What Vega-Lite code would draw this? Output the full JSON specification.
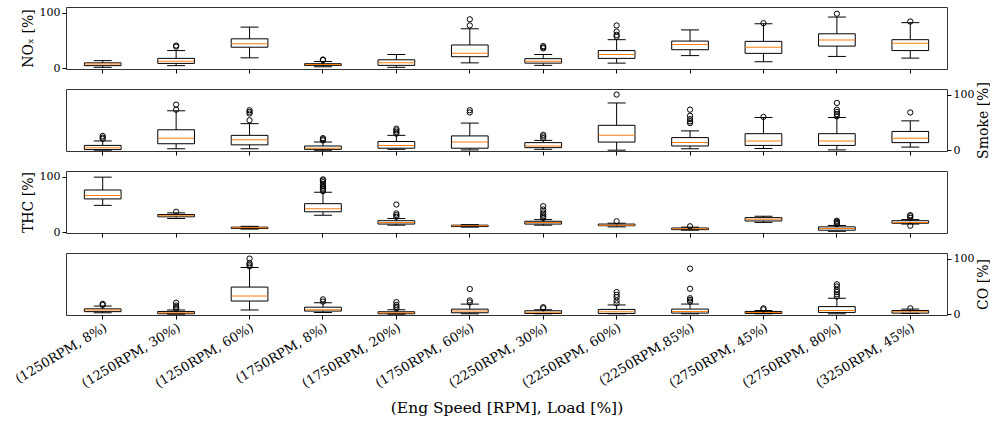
{
  "$schema": "https://vega.github.io/schema/vega-lite/v6.json",
  "padding": {"left": 12, "top": 6, "right": 2, "bottom": 5},
  "background": "white",
  "spacing": 20,
  "bounds": "flush",
  "datasets": {
    "boxes": [
      {"v": "NOx", "c": "(1250RPM, 8%)", "lo": 2, "q1": 5, "med": 8, "q3": 10, "hi": 14},
      {"v": "NOx", "c": "(1250RPM, 30%)", "lo": 5, "q1": 9, "med": 13, "q3": 18, "hi": 32},
      {"v": "NOx", "c": "(1250RPM, 60%)", "lo": 19, "q1": 38, "med": 44, "q3": 53, "hi": 74},
      {"v": "NOx", "c": "(1750RPM, 8%)", "lo": 3, "q1": 5.5, "med": 7, "q3": 8.5, "hi": 12.5},
      {"v": "NOx", "c": "(1750RPM, 20%)", "lo": 2, "q1": 5.5, "med": 10, "q3": 15.5, "hi": 25},
      {"v": "NOx", "c": "(1750RPM, 60%)", "lo": 10, "q1": 21, "med": 27, "q3": 42, "hi": 71},
      {"v": "NOx", "c": "(2250RPM, 30%)", "lo": 5.5, "q1": 9.5, "med": 13, "q3": 17.5, "hi": 25},
      {"v": "NOx", "c": "(2250RPM, 60%)", "lo": 9.5, "q1": 18, "med": 25, "q3": 32, "hi": 51.5},
      {"v": "NOx", "c": "(2250RPM,85%)", "lo": 23, "q1": 33.5, "med": 43, "q3": 49, "hi": 69},
      {"v": "NOx", "c": "(2750RPM, 45%)", "lo": 12, "q1": 27, "med": 38, "q3": 48.5, "hi": 80},
      {"v": "NOx", "c": "(2750RPM, 80%)", "lo": 21.5, "q1": 40, "med": 51, "q3": 62, "hi": 92},
      {"v": "NOx", "c": "(3250RPM, 45%)", "lo": 18.5, "q1": 32, "med": 45, "q3": 51.5, "hi": 82},

      {"v": "Smoke", "c": "(1250RPM, 8%)", "lo": 0.5, "q1": 1.5, "med": 5, "q3": 9, "hi": 17},
      {"v": "Smoke", "c": "(1250RPM, 30%)", "lo": 3, "q1": 12, "med": 22, "q3": 37, "hi": 71},
      {"v": "Smoke", "c": "(1250RPM, 60%)", "lo": 3, "q1": 10, "med": 19, "q3": 27, "hi": 48},
      {"v": "Smoke", "c": "(1750RPM, 8%)", "lo": 0.5, "q1": 2, "med": 4, "q3": 8, "hi": 15},
      {"v": "Smoke", "c": "(1750RPM, 20%)", "lo": 2, "q1": 4, "med": 9, "q3": 16, "hi": 27},
      {"v": "Smoke", "c": "(1750RPM, 60%)", "lo": 1, "q1": 4, "med": 15, "q3": 26, "hi": 49},
      {"v": "Smoke", "c": "(2250RPM, 30%)", "lo": 2, "q1": 5, "med": 8, "q3": 14, "hi": 18},
      {"v": "Smoke", "c": "(2250RPM, 60%)", "lo": 0.5, "q1": 15, "med": 27, "q3": 45, "hi": 85},
      {"v": "Smoke", "c": "(2250RPM,85%)", "lo": 3, "q1": 8, "med": 14, "q3": 23, "hi": 35},
      {"v": "Smoke", "c": "(2750RPM, 45%)", "lo": 3.5, "q1": 9, "med": 17, "q3": 30, "hi": 59},
      {"v": "Smoke", "c": "(2750RPM, 80%)", "lo": 1, "q1": 9, "med": 17, "q3": 30, "hi": 59},
      {"v": "Smoke", "c": "(3250RPM, 45%)", "lo": 6, "q1": 14, "med": 22, "q3": 34, "hi": 53},

      {"v": "THC", "c": "(1250RPM, 8%)", "lo": 48.5, "q1": 60, "med": 66, "q3": 76, "hi": 99},
      {"v": "THC", "c": "(1250RPM, 30%)", "lo": 25, "q1": 28, "med": 30, "q3": 32, "hi": 35},
      {"v": "THC", "c": "(1250RPM, 60%)", "lo": 6, "q1": 7, "med": 8.5, "q3": 9.5, "hi": 11},
      {"v": "THC", "c": "(1750RPM, 8%)", "lo": 31, "q1": 37, "med": 42.5, "q3": 51.5, "hi": 72},
      {"v": "THC", "c": "(1750RPM, 20%)", "lo": 13, "q1": 15, "med": 18, "q3": 21, "hi": 25},
      {"v": "THC", "c": "(1750RPM, 60%)", "lo": 9.5, "q1": 10.5, "med": 12, "q3": 13, "hi": 14},
      {"v": "THC", "c": "(2250RPM, 30%)", "lo": 13, "q1": 15, "med": 18, "q3": 20, "hi": 23},
      {"v": "THC", "c": "(2250RPM, 60%)", "lo": 10, "q1": 12, "med": 13, "q3": 15, "hi": 16.5},
      {"v": "THC", "c": "(2250RPM,85%)", "lo": 4, "q1": 5, "med": 6.5, "q3": 8, "hi": 9.5},
      {"v": "THC", "c": "(2750RPM, 45%)", "lo": 18, "q1": 20.5, "med": 23.5, "q3": 26.5, "hi": 29},
      {"v": "THC", "c": "(2750RPM, 80%)", "lo": 2, "q1": 4, "med": 7, "q3": 10, "hi": 12.5},
      {"v": "THC", "c": "(3250RPM, 45%)", "lo": 15, "q1": 16.5, "med": 18, "q3": 21, "hi": 23},

      {"v": "CO", "c": "(1250RPM, 8%)", "lo": 3, "q1": 5, "med": 8, "q3": 10, "hi": 15},
      {"v": "CO", "c": "(1250RPM, 30%)", "lo": 0.5, "q1": 1.2, "med": 3, "q3": 5.4, "hi": 8},
      {"v": "CO", "c": "(1250RPM, 60%)", "lo": 8, "q1": 24, "med": 33, "q3": 49, "hi": 84},
      {"v": "CO", "c": "(1750RPM, 8%)", "lo": 3.5, "q1": 6, "med": 8.5, "q3": 13, "hi": 21},
      {"v": "CO", "c": "(1750RPM, 20%)", "lo": 0.5, "q1": 1.2, "med": 3, "q3": 4.8, "hi": 8.4},
      {"v": "CO", "c": "(1750RPM, 60%)", "lo": 1.2, "q1": 3, "med": 6, "q3": 9.5, "hi": 18.5},
      {"v": "CO", "c": "(2250RPM, 30%)", "lo": 1.2, "q1": 1.8, "med": 4, "q3": 6.6, "hi": 8.4},
      {"v": "CO", "c": "(2250RPM, 60%)", "lo": 1.2, "q1": 1.8, "med": 5, "q3": 9, "hi": 17},
      {"v": "CO", "c": "(2250RPM,85%)", "lo": 1.2, "q1": 2.4, "med": 5.4, "q3": 9.6, "hi": 18.6},
      {"v": "CO", "c": "(2750RPM, 45%)", "lo": 1.2, "q1": 1.8, "med": 3.6, "q3": 5.4, "hi": 7},
      {"v": "CO", "c": "(2750RPM, 80%)", "lo": 1.2, "q1": 3.6, "med": 7, "q3": 14, "hi": 29},
      {"v": "CO", "c": "(3250RPM, 45%)", "lo": 1.8, "q1": 2.4, "med": 5, "q3": 7, "hi": 9.6}
    ],
    "outs": [
      {"v": "NOx", "c": "(1250RPM, 30%)", "y": 39},
      {"v": "NOx", "c": "(1250RPM, 30%)", "y": 41},
      {"v": "NOx", "c": "(1750RPM, 8%)", "y": 15},
      {"v": "NOx", "c": "(1750RPM, 8%)", "y": 16},
      {"v": "NOx", "c": "(1750RPM, 60%)", "y": 77},
      {"v": "NOx", "c": "(1750RPM, 60%)", "y": 88},
      {"v": "NOx", "c": "(2250RPM, 30%)", "y": 36},
      {"v": "NOx", "c": "(2250RPM, 30%)", "y": 38},
      {"v": "NOx", "c": "(2250RPM, 30%)", "y": 40},
      {"v": "NOx", "c": "(2250RPM, 60%)", "y": 57},
      {"v": "NOx", "c": "(2250RPM, 60%)", "y": 60},
      {"v": "NOx", "c": "(2250RPM, 60%)", "y": 66},
      {"v": "NOx", "c": "(2250RPM, 60%)", "y": 77},
      {"v": "NOx", "c": "(2750RPM, 45%)", "y": 81},
      {"v": "NOx", "c": "(2750RPM, 80%)", "y": 98},
      {"v": "NOx", "c": "(3250RPM, 45%)", "y": 84},

      {"v": "Smoke", "c": "(1250RPM, 8%)", "y": 21},
      {"v": "Smoke", "c": "(1250RPM, 8%)", "y": 23},
      {"v": "Smoke", "c": "(1250RPM, 8%)", "y": 26},
      {"v": "Smoke", "c": "(1250RPM, 30%)", "y": 73},
      {"v": "Smoke", "c": "(1250RPM, 30%)", "y": 82},
      {"v": "Smoke", "c": "(1250RPM, 60%)", "y": 54},
      {"v": "Smoke", "c": "(1250RPM, 60%)", "y": 66},
      {"v": "Smoke", "c": "(1250RPM, 60%)", "y": 69},
      {"v": "Smoke", "c": "(1250RPM, 60%)", "y": 72},
      {"v": "Smoke", "c": "(1750RPM, 8%)", "y": 18},
      {"v": "Smoke", "c": "(1750RPM, 8%)", "y": 20},
      {"v": "Smoke", "c": "(1750RPM, 8%)", "y": 22},
      {"v": "Smoke", "c": "(1750RPM, 20%)", "y": 30},
      {"v": "Smoke", "c": "(1750RPM, 20%)", "y": 33},
      {"v": "Smoke", "c": "(1750RPM, 20%)", "y": 36},
      {"v": "Smoke", "c": "(1750RPM, 20%)", "y": 39},
      {"v": "Smoke", "c": "(1750RPM, 60%)", "y": 68},
      {"v": "Smoke", "c": "(1750RPM, 60%)", "y": 72},
      {"v": "Smoke", "c": "(2250RPM, 30%)", "y": 22},
      {"v": "Smoke", "c": "(2250RPM, 30%)", "y": 25},
      {"v": "Smoke", "c": "(2250RPM, 30%)", "y": 28},
      {"v": "Smoke", "c": "(2250RPM, 60%)", "y": 100},
      {"v": "Smoke", "c": "(2250RPM,85%)", "y": 49},
      {"v": "Smoke", "c": "(2250RPM,85%)", "y": 52},
      {"v": "Smoke", "c": "(2250RPM,85%)", "y": 56},
      {"v": "Smoke", "c": "(2250RPM,85%)", "y": 62},
      {"v": "Smoke", "c": "(2250RPM,85%)", "y": 73},
      {"v": "Smoke", "c": "(2750RPM, 45%)", "y": 60},
      {"v": "Smoke", "c": "(2750RPM, 80%)", "y": 61},
      {"v": "Smoke", "c": "(2750RPM, 80%)", "y": 65},
      {"v": "Smoke", "c": "(2750RPM, 80%)", "y": 69},
      {"v": "Smoke", "c": "(2750RPM, 80%)", "y": 73},
      {"v": "Smoke", "c": "(2750RPM, 80%)", "y": 85},
      {"v": "Smoke", "c": "(3250RPM, 45%)", "y": 68},

      {"v": "THC", "c": "(1250RPM, 30%)", "y": 37},
      {"v": "THC", "c": "(1750RPM, 8%)", "y": 74},
      {"v": "THC", "c": "(1750RPM, 8%)", "y": 77},
      {"v": "THC", "c": "(1750RPM, 8%)", "y": 80},
      {"v": "THC", "c": "(1750RPM, 8%)", "y": 83},
      {"v": "THC", "c": "(1750RPM, 8%)", "y": 86},
      {"v": "THC", "c": "(1750RPM, 8%)", "y": 90},
      {"v": "THC", "c": "(1750RPM, 8%)", "y": 93},
      {"v": "THC", "c": "(1750RPM, 8%)", "y": 95},
      {"v": "THC", "c": "(1750RPM, 20%)", "y": 28},
      {"v": "THC", "c": "(1750RPM, 20%)", "y": 31},
      {"v": "THC", "c": "(1750RPM, 20%)", "y": 34},
      {"v": "THC", "c": "(1750RPM, 20%)", "y": 50},
      {"v": "THC", "c": "(2250RPM, 30%)", "y": 26},
      {"v": "THC", "c": "(2250RPM, 30%)", "y": 29},
      {"v": "THC", "c": "(2250RPM, 30%)", "y": 32},
      {"v": "THC", "c": "(2250RPM, 30%)", "y": 36},
      {"v": "THC", "c": "(2250RPM, 30%)", "y": 41},
      {"v": "THC", "c": "(2250RPM, 30%)", "y": 47},
      {"v": "THC", "c": "(2250RPM, 60%)", "y": 20},
      {"v": "THC", "c": "(2250RPM,85%)", "y": 11},
      {"v": "THC", "c": "(2750RPM, 80%)", "y": 15},
      {"v": "THC", "c": "(2750RPM, 80%)", "y": 17},
      {"v": "THC", "c": "(2750RPM, 80%)", "y": 19},
      {"v": "THC", "c": "(2750RPM, 80%)", "y": 21},
      {"v": "THC", "c": "(3250RPM, 45%)", "y": 12},
      {"v": "THC", "c": "(3250RPM, 45%)", "y": 26},
      {"v": "THC", "c": "(3250RPM, 45%)", "y": 29},
      {"v": "THC", "c": "(3250RPM, 45%)", "y": 31},

      {"v": "CO", "c": "(1250RPM, 8%)", "y": 17},
      {"v": "CO", "c": "(1250RPM, 8%)", "y": 19},
      {"v": "CO", "c": "(1250RPM, 30%)", "y": 10},
      {"v": "CO", "c": "(1250RPM, 30%)", "y": 13},
      {"v": "CO", "c": "(1250RPM, 30%)", "y": 16},
      {"v": "CO", "c": "(1250RPM, 30%)", "y": 21},
      {"v": "CO", "c": "(1250RPM, 60%)", "y": 86},
      {"v": "CO", "c": "(1250RPM, 60%)", "y": 89},
      {"v": "CO", "c": "(1250RPM, 60%)", "y": 92},
      {"v": "CO", "c": "(1250RPM, 60%)", "y": 100},
      {"v": "CO", "c": "(1750RPM, 8%)", "y": 23},
      {"v": "CO", "c": "(1750RPM, 8%)", "y": 27},
      {"v": "CO", "c": "(1750RPM, 20%)", "y": 11},
      {"v": "CO", "c": "(1750RPM, 20%)", "y": 14},
      {"v": "CO", "c": "(1750RPM, 20%)", "y": 17},
      {"v": "CO", "c": "(1750RPM, 20%)", "y": 22},
      {"v": "CO", "c": "(1750RPM, 60%)", "y": 21.5},
      {"v": "CO", "c": "(1750RPM, 60%)", "y": 25},
      {"v": "CO", "c": "(1750RPM, 60%)", "y": 45.5},
      {"v": "CO", "c": "(2250RPM, 30%)", "y": 11},
      {"v": "CO", "c": "(2250RPM, 30%)", "y": 13},
      {"v": "CO", "c": "(2250RPM, 60%)", "y": 20},
      {"v": "CO", "c": "(2250RPM, 60%)", "y": 25},
      {"v": "CO", "c": "(2250RPM, 60%)", "y": 31},
      {"v": "CO", "c": "(2250RPM, 60%)", "y": 35},
      {"v": "CO", "c": "(2250RPM, 60%)", "y": 40},
      {"v": "CO", "c": "(2250RPM,85%)", "y": 23},
      {"v": "CO", "c": "(2250RPM,85%)", "y": 26},
      {"v": "CO", "c": "(2250RPM,85%)", "y": 29},
      {"v": "CO", "c": "(2250RPM,85%)", "y": 46},
      {"v": "CO", "c": "(2250RPM,85%)", "y": 82},
      {"v": "CO", "c": "(2750RPM, 45%)", "y": 9},
      {"v": "CO", "c": "(2750RPM, 45%)", "y": 11},
      {"v": "CO", "c": "(2750RPM, 80%)", "y": 32},
      {"v": "CO", "c": "(2750RPM, 80%)", "y": 36},
      {"v": "CO", "c": "(2750RPM, 80%)", "y": 40},
      {"v": "CO", "c": "(2750RPM, 80%)", "y": 44},
      {"v": "CO", "c": "(2750RPM, 80%)", "y": 50},
      {"v": "CO", "c": "(2750RPM, 80%)", "y": 54},
      {"v": "CO", "c": "(3250RPM, 45%)", "y": 11}
    ]
  },
  "vconcat": [
    {
      "width": 881, "height": 62,
      "encoding": {
        "x": {"field": "c", "type": "nominal", "title": null,
              "scale": {"domain": ["(1250RPM, 8%)", "(1250RPM, 30%)", "(1250RPM, 60%)", "(1750RPM, 8%)", "(1750RPM, 20%)", "(1750RPM, 60%)", "(2250RPM, 30%)", "(2250RPM, 60%)", "(2250RPM,85%)", "(2750RPM, 45%)", "(2750RPM, 80%)", "(3250RPM, 45%)"], "paddingInner": 0.5, "paddingOuter": 0.25},
              "axis": {"labels": false, "ticks": true, "tickSize": 4, "domain": false}}
      },
      "layer": [
        {"data": {"name": "boxes"}, "transform": [{"filter": "datum.v === 'NOx'"}],
         "mark": {"type": "rule", "color": "black", "strokeWidth": 1},
         "encoding": {"y": {"field": "lo", "type": "quantitative", "title": "NOₓ [%]", "scale": {"domain": [-1, 110], "nice": false, "zero": false}, "axis": {"orient": "left", "values": [0, 100], "grid": false}}, "y2": {"field": "hi"}}},
        {"data": {"name": "boxes"}, "transform": [{"filter": "datum.v === 'NOx'"}],
         "mark": {"type": "bar", "fill": "white", "stroke": "black", "strokeWidth": 1},
         "encoding": {"y": {"field": "q1", "type": "quantitative", "title": "NOₓ [%]"}, "y2": {"field": "q3"}}},
        {"data": {"name": "boxes"}, "transform": [{"filter": "datum.v === 'NOx'"}],
         "mark": {"type": "tick", "color": "#ff7f0e", "size": 36, "thickness": 1, "opacity": 1},
         "encoding": {"y": {"field": "med", "type": "quantitative", "title": "NOₓ [%]"}}},
        {"data": {"name": "boxes"}, "transform": [{"filter": "datum.v === 'NOx'"}],
         "mark": {"type": "tick", "color": "black", "size": 18, "thickness": 1, "opacity": 1},
         "encoding": {"y": {"field": "lo", "type": "quantitative", "title": "NOₓ [%]"}}},
        {"data": {"name": "boxes"}, "transform": [{"filter": "datum.v === 'NOx'"}],
         "mark": {"type": "tick", "color": "black", "size": 18, "thickness": 1, "opacity": 1},
         "encoding": {"y": {"field": "hi", "type": "quantitative", "title": "NOₓ [%]"}}},
        {"data": {"name": "outs"}, "transform": [{"filter": "datum.v === 'NOx'"}],
         "mark": {"type": "point", "shape": "circle", "filled": false, "stroke": "black", "strokeWidth": 1, "size": 28, "opacity": 1},
         "encoding": {"y": {"field": "y", "type": "quantitative", "title": "NOₓ [%]"}}}
      ]
    },
    {
      "width": 881, "height": 62,
      "encoding": {
        "x": {"field": "c", "type": "nominal", "title": null,
              "scale": {"domain": ["(1250RPM, 8%)", "(1250RPM, 30%)", "(1250RPM, 60%)", "(1750RPM, 8%)", "(1750RPM, 20%)", "(1750RPM, 60%)", "(2250RPM, 30%)", "(2250RPM, 60%)", "(2250RPM,85%)", "(2750RPM, 45%)", "(2750RPM, 80%)", "(3250RPM, 45%)"], "paddingInner": 0.5, "paddingOuter": 0.25},
              "axis": {"labels": false, "ticks": true, "tickSize": 4, "domain": false}}
      },
      "layer": [
        {"data": {"name": "boxes"}, "transform": [{"filter": "datum.v === 'Smoke'"}],
         "mark": {"type": "rule", "color": "black", "strokeWidth": 1},
         "encoding": {"y": {"field": "lo", "type": "quantitative", "title": "Smoke [%]", "scale": {"domain": [-1, 110], "nice": false, "zero": false}, "axis": {"orient": "right", "values": [0, 100], "grid": false, "titleAngle": 270, "titleBaseline": "top", "titlePadding": 3}}, "y2": {"field": "hi"}}},
        {"data": {"name": "boxes"}, "transform": [{"filter": "datum.v === 'Smoke'"}],
         "mark": {"type": "bar", "fill": "white", "stroke": "black", "strokeWidth": 1},
         "encoding": {"y": {"field": "q1", "type": "quantitative", "title": "Smoke [%]"}, "y2": {"field": "q3"}}},
        {"data": {"name": "boxes"}, "transform": [{"filter": "datum.v === 'Smoke'"}],
         "mark": {"type": "tick", "color": "#ff7f0e", "size": 36, "thickness": 1, "opacity": 1},
         "encoding": {"y": {"field": "med", "type": "quantitative", "title": "Smoke [%]"}}},
        {"data": {"name": "boxes"}, "transform": [{"filter": "datum.v === 'Smoke'"}],
         "mark": {"type": "tick", "color": "black", "size": 18, "thickness": 1, "opacity": 1},
         "encoding": {"y": {"field": "lo", "type": "quantitative", "title": "Smoke [%]"}}},
        {"data": {"name": "boxes"}, "transform": [{"filter": "datum.v === 'Smoke'"}],
         "mark": {"type": "tick", "color": "black", "size": 18, "thickness": 1, "opacity": 1},
         "encoding": {"y": {"field": "hi", "type": "quantitative", "title": "Smoke [%]"}}},
        {"data": {"name": "outs"}, "transform": [{"filter": "datum.v === 'Smoke'"}],
         "mark": {"type": "point", "shape": "circle", "filled": false, "stroke": "black", "strokeWidth": 1, "size": 28, "opacity": 1},
         "encoding": {"y": {"field": "y", "type": "quantitative", "title": "Smoke [%]"}}}
      ]
    },
    {
      "width": 881, "height": 62,
      "encoding": {
        "x": {"field": "c", "type": "nominal", "title": null,
              "scale": {"domain": ["(1250RPM, 8%)", "(1250RPM, 30%)", "(1250RPM, 60%)", "(1750RPM, 8%)", "(1750RPM, 20%)", "(1750RPM, 60%)", "(2250RPM, 30%)", "(2250RPM, 60%)", "(2250RPM,85%)", "(2750RPM, 45%)", "(2750RPM, 80%)", "(3250RPM, 45%)"], "paddingInner": 0.5, "paddingOuter": 0.25},
              "axis": {"labels": false, "ticks": true, "tickSize": 4, "domain": false}}
      },
      "layer": [
        {"data": {"name": "boxes"}, "transform": [{"filter": "datum.v === 'THC'"}],
         "mark": {"type": "rule", "color": "black", "strokeWidth": 1},
         "encoding": {"y": {"field": "lo", "type": "quantitative", "title": "THC [%]", "scale": {"domain": [-1, 110], "nice": false, "zero": false}, "axis": {"orient": "left", "values": [0, 100], "grid": false}}, "y2": {"field": "hi"}}},
        {"data": {"name": "boxes"}, "transform": [{"filter": "datum.v === 'THC'"}],
         "mark": {"type": "bar", "fill": "white", "stroke": "black", "strokeWidth": 1},
         "encoding": {"y": {"field": "q1", "type": "quantitative", "title": "THC [%]"}, "y2": {"field": "q3"}}},
        {"data": {"name": "boxes"}, "transform": [{"filter": "datum.v === 'THC'"}],
         "mark": {"type": "tick", "color": "#ff7f0e", "size": 36, "thickness": 1, "opacity": 1},
         "encoding": {"y": {"field": "med", "type": "quantitative", "title": "THC [%]"}}},
        {"data": {"name": "boxes"}, "transform": [{"filter": "datum.v === 'THC'"}],
         "mark": {"type": "tick", "color": "black", "size": 18, "thickness": 1, "opacity": 1},
         "encoding": {"y": {"field": "lo", "type": "quantitative", "title": "THC [%]"}}},
        {"data": {"name": "boxes"}, "transform": [{"filter": "datum.v === 'THC'"}],
         "mark": {"type": "tick", "color": "black", "size": 18, "thickness": 1, "opacity": 1},
         "encoding": {"y": {"field": "hi", "type": "quantitative", "title": "THC [%]"}}},
        {"data": {"name": "outs"}, "transform": [{"filter": "datum.v === 'THC'"}],
         "mark": {"type": "point", "shape": "circle", "filled": false, "stroke": "black", "strokeWidth": 1, "size": 28, "opacity": 1},
         "encoding": {"y": {"field": "y", "type": "quantitative", "title": "THC [%]"}}}
      ]
    },
    {
      "width": 881, "height": 62,
      "encoding": {
        "x": {"field": "c", "type": "nominal", "title": "(Eng Speed [RPM], Load [%])",
              "scale": {"domain": ["(1250RPM, 8%)", "(1250RPM, 30%)", "(1250RPM, 60%)", "(1750RPM, 8%)", "(1750RPM, 20%)", "(1750RPM, 60%)", "(2250RPM, 30%)", "(2250RPM, 60%)", "(2250RPM,85%)", "(2750RPM, 45%)", "(2750RPM, 80%)", "(3250RPM, 45%)"], "paddingInner": 0.5, "paddingOuter": 0.25},
              "axis": {"labels": true, "ticks": true, "tickSize": 4, "domain": false, "labelAngle": -31, "labelAlign": "right", "labelBaseline": "top", "labelFontSize": 13, "labelPadding": 2, "titleFontSize": 15.5, "titlePadding": 11}}
      },
      "layer": [
        {"data": {"name": "boxes"}, "transform": [{"filter": "datum.v === 'CO'"}],
         "mark": {"type": "rule", "color": "black", "strokeWidth": 1},
         "encoding": {"y": {"field": "lo", "type": "quantitative", "title": "CO [%]", "scale": {"domain": [-1, 110], "nice": false, "zero": false}, "axis": {"orient": "right", "values": [0, 100], "grid": false, "titleAngle": 270, "titleBaseline": "top", "titlePadding": 3}}, "y2": {"field": "hi"}}},
        {"data": {"name": "boxes"}, "transform": [{"filter": "datum.v === 'CO'"}],
         "mark": {"type": "bar", "fill": "white", "stroke": "black", "strokeWidth": 1},
         "encoding": {"y": {"field": "q1", "type": "quantitative", "title": "CO [%]"}, "y2": {"field": "q3"}}},
        {"data": {"name": "boxes"}, "transform": [{"filter": "datum.v === 'CO'"}],
         "mark": {"type": "tick", "color": "#ff7f0e", "size": 36, "thickness": 1, "opacity": 1},
         "encoding": {"y": {"field": "med", "type": "quantitative", "title": "CO [%]"}}},
        {"data": {"name": "boxes"}, "transform": [{"filter": "datum.v === 'CO'"}],
         "mark": {"type": "tick", "color": "black", "size": 18, "thickness": 1, "opacity": 1},
         "encoding": {"y": {"field": "lo", "type": "quantitative", "title": "CO [%]"}}},
        {"data": {"name": "boxes"}, "transform": [{"filter": "datum.v === 'CO'"}],
         "mark": {"type": "tick", "color": "black", "size": 18, "thickness": 1, "opacity": 1},
         "encoding": {"y": {"field": "hi", "type": "quantitative", "title": "CO [%]"}}},
        {"data": {"name": "outs"}, "transform": [{"filter": "datum.v === 'CO'"}],
         "mark": {"type": "point", "shape": "circle", "filled": false, "stroke": "black", "strokeWidth": 1, "size": 28, "opacity": 1},
         "encoding": {"y": {"field": "y", "type": "quantitative", "title": "CO [%]"}}}
      ]
    }
  ],
  "config": {
    "font": "DejaVu Serif",
    "view": {"stroke": "#333", "strokeWidth": 1},
    "axis": {"grid": false, "domain": false, "tickColor": "black", "labelColor": "black", "titleColor": "black", "labelFont": "DejaVu Serif", "titleFont": "DejaVu Serif", "titleFontWeight": "normal", "labelFontSize": 11, "titleFontSize": 14, "tickSize": 4, "labelPadding": 2, "titlePadding": 4}
  }
}
